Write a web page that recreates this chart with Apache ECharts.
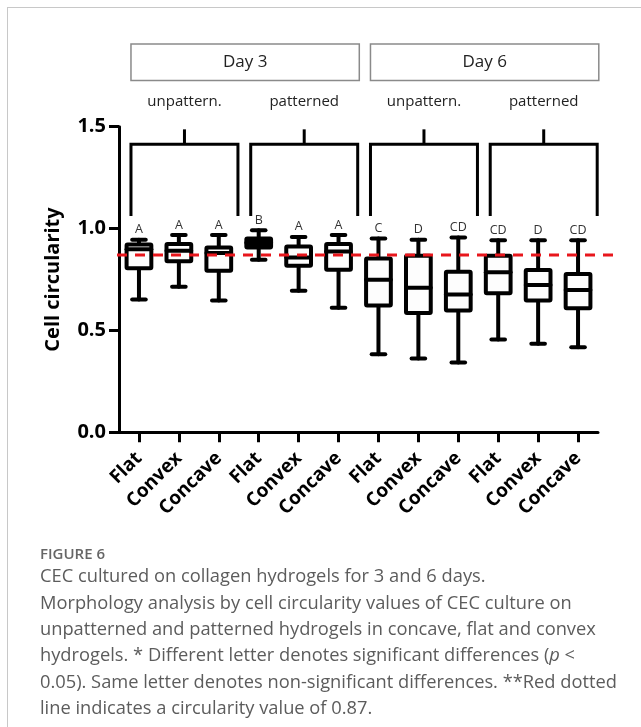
<!DOCTYPE html>
<html>
<head>
<meta charset="utf-8">
<script src="https://cdn.jsdelivr.net/npm/echarts@6/dist/echarts.min.js"></script>
<style>
  html, body { margin: 0; padding: 0; background: #fff; }
  #frame { position: absolute; left: 7px; top: 7px; width: 700px; height: 760px;
           border-left: 1.5px solid #c8c8c8; border-top: 1.5px solid #c8c8c8; }
  #chart { position: absolute; left: 0; top: 0; width: 641px; height: 727px; }
</style>
</head>
<body>
<div id="frame"></div>
<div id="chart"></div>
<script>
// ---------- data ----------
const categories = ['Flat', 'Convex', 'Concave', 'Flat', 'Convex', 'Concave',
                    'Flat', 'Convex', 'Concave', 'Flat', 'Convex', 'Concave'];
const whiskerLow  = [0.652, 0.715, 0.647, 0.847, 0.695, 0.611, 0.383, 0.362, 0.342, 0.455, 0.435, 0.418];
const quartile1   = [0.805, 0.839, 0.793, 0.907, 0.818, 0.798, 0.622, 0.586, 0.598, 0.682, 0.647, 0.609];
const medianVals  = [0.899, 0.891, 0.880, 0.930, 0.858, 0.888, 0.749, 0.709, 0.676, 0.785, 0.723, 0.699];
const quartile3   = [0.922, 0.924, 0.907, 0.951, 0.912, 0.924, 0.853, 0.867, 0.788, 0.867, 0.797, 0.777];
const whiskerHigh = [0.945, 0.968, 0.968, 0.992, 0.959, 0.968, 0.951, 0.945, 0.956, 0.943, 0.943, 0.943];
const letters     = ['A', 'A', 'A', 'B', 'A', 'A', 'C', 'D', 'CD', 'CD', 'D', 'CD'];
const groupLabels = ['unpattern.', 'patterned', 'unpattern.', 'patterned'];
const dayLabels   = ['Day 3', 'Day 6'];
const yTicks      = [0, 0.5, 1.0, 1.5];
const refValue    = 0.87;
const captionTitle = 'FIGURE 6';
const captionLines = [
  'CEC cultured on collagen hydrogels for 3 and 6 days.',
  'Morphology analysis by cell circularity values of CEC culture on',
  'unpatterned and patterned hydrogels in concave, flat and convex',
  'hydrogels. * Different letter denotes significant differences ({i|p} <',
  '0.05). Same letter denotes non-significant differences. **Red dotted',
  'line indicates a circularity value of 0.87.'
];

// ---------- chart ----------
const FONT = '"Open Sans", "DejaVu Sans", sans-serif';
const chart = echarts.init(document.getElementById('chart'), null, { renderer: 'canvas' });

const boxData = categories.map((c, i) =>
  [i, whiskerLow[i], quartile1[i], medianVals[i], quartile3[i], whiskerHigh[i]]);

function renderBox(params, api) {
  const x = api.value(0);
  const bw = api.size([1, 0])[0];
  const pLow = api.coord([x, api.value(1)]);
  const pQ1 = api.coord([x, api.value(2)]);
  const pMed = api.coord([x, api.value(3)]);
  const pQ3 = api.coord([x, api.value(4)]);
  const pHigh = api.coord([x, api.value(5)]);
  const cx = pLow[0];
  const half = bw * 0.31;
  const cap = bw * 0.17;
  const filled = params.dataIndex === 3;
  const ls = { stroke: '#000', lineWidth: 4, lineCap: 'round', lineJoin: 'round' };
  return {
    type: 'group',
    children: [
      { type: 'line', shape: { x1: cx, y1: pHigh[1], x2: cx, y2: pLow[1] }, style: ls },
      { type: 'line', shape: { x1: cx - cap, y1: pHigh[1], x2: cx + cap, y2: pHigh[1] }, style: ls },
      { type: 'line', shape: { x1: cx - cap, y1: pLow[1], x2: cx + cap, y2: pLow[1] }, style: ls },
      { type: 'rect', shape: { x: cx - half, y: pQ3[1], width: 2 * half, height: pQ1[1] - pQ3[1], r: 1 },
        style: Object.assign({ fill: filled ? '#000' : '#fdfdfd' }, ls) },
      { type: 'line', shape: { x1: cx - half, y1: pMed[1], x2: cx + half, y2: pMed[1] }, style: ls },
      { type: 'text', x: cx, y: pHigh[1] - 10,
        style: { text: letters[params.dataIndex], fill: '#333', font: '12.5px ' + FONT,
                 textAlign: 'center', textVerticalAlign: 'middle' } }
    ]
  };
}

function renderGroups(params, api) {
  const g = api.value(0);
  const bw = api.size([1, 0])[0];
  const first = api.coord([g * 3, 0])[0];
  const last = api.coord([g * 3 + 2, 0])[0];
  const left = first - bw / 2 + bw * 0.3;
  const right = last + bw / 2 - bw * 0.02;
  const mid = (left + right) / 2;
  const yLeg = api.coord([0, 1.062])[1];
  const yBar = api.coord([0, 1.414])[1];
  const yStem = api.coord([0, 1.487])[1];
  const yLab = api.coord([0, 1.624])[1];
  const ls = { stroke: '#000', lineWidth: 3, lineJoin: 'miter' };
  const children = [
    { type: 'polyline', shape: { points: [[left, yLeg], [left, yBar], [right, yBar], [right, yLeg]] }, style: Object.assign({ fill: null }, ls) },
    { type: 'line', shape: { x1: mid, y1: yBar, x2: mid, y2: yStem }, style: ls },
    { type: 'text', x: mid, y: yLab,
      style: { text: groupLabels[g], fill: '#222', font: '15px ' + FONT, textAlign: 'center', textVerticalAlign: 'middle' } }
  ];
  if (g % 2 === 0) {
    const last2 = api.coord([g * 3 + 5, 0])[0];
    const dRight = last2 + bw / 2 + bw * 0.02;
    const yTop = api.coord([0, 1.906])[1];
    const yBot = api.coord([0, 1.727])[1];
    children.push({ type: 'rect', shape: { x: left, y: yTop, width: dRight - left, height: yBot - yTop },
      style: { fill: '#fff', stroke: '#8a8a8a', lineWidth: 1.5 } });
    children.push({ type: 'text', x: (left + dRight) / 2, y: (yTop + yBot) / 2,
      style: { text: dayLabels[g / 2], fill: '#222', font: '17px ' + FONT, textAlign: 'center', textVerticalAlign: 'middle' } });
  }
  return { type: 'group', children };
}

function renderRef(params, api) {
  const v = api.value(0);
  const bw = api.size([1, 0])[0];
  const p0 = api.coord([0, v]);
  const p1 = api.coord([categories.length - 1, v]);
  return {
    type: 'line',
    shape: { x1: p0[0] - bw / 2 - 2, y1: p0[1], x2: p1[0] + bw / 2 + 17, y2: p1[1] },
    style: { stroke: '#e8161c', lineWidth: 3, lineDash: [10, 8] }
  };
}

const option = {
  animation: false,
  backgroundColor: 'transparent',
  grid: { left: 119, right: 43, top: 126.7, bottom: 294.7, containLabel: false },
  xAxis: {
    type: 'category',
    data: categories,
    axisLine: { lineStyle: { color: '#000', width: 3 } },
    axisTick: { show: true, inside: false, alignWithLabel: true, length: 10, lineStyle: { color: '#000', width: 3 } },
    axisLabel: { rotate: 45, margin: 23, color: '#000', fontWeight: 'bold', fontSize: 19, fontFamily: FONT, interval: 0 },
    splitLine: { show: false }
  },
  yAxis: {
    type: 'value',
    min: yTicks[0], max: yTicks[yTicks.length - 1], interval: yTicks[1] - yTicks[0],
    name: 'Cell circularity',
    nameLocation: 'middle',
    nameGap: 56,
    nameTextStyle: { color: '#000', fontWeight: 'bold', fontSize: 20, fontFamily: FONT },
    axisLine: { show: true, lineStyle: { color: '#000', width: 3 } },
    axisTick: { show: true, inside: false, length: 10, lineStyle: { color: '#000', width: 3 } },
    axisLabel: { margin: 13, color: '#000', fontWeight: 'bold', fontSize: 20, fontFamily: FONT,
                 formatter: v => v.toFixed(1) },
    splitLine: { show: false }
  },
  series: [
    { type: 'custom', name: 'groups', renderItem: renderGroups, data: groupLabels.map((g, i) => [i]),
      encode: { x: -1, y: -1 }, clip: false, z: 2, silent: true },
    { type: 'custom', name: 'boxes', renderItem: renderBox, data: boxData,
      encode: { x: 0, y: [1, 2, 3, 4, 5] }, clip: false, z: 3, silent: true },
    { type: 'custom', name: 'reference', renderItem: renderRef, data: [[refValue]],
      encode: { y: 0 }, clip: false, z: 4, silent: true }
  ],
  graphic: [
    { type: 'text', left: 40, top: 547,
      style: { text: captionTitle, fill: '#666', font: '600 15px ' + FONT } },
    { type: 'text', left: 40, top: 564,
      style: { text: captionLines.join('\n'), fill: '#5c5c5c', font: '18.3px ' + FONT, lineHeight: 26.3,
               rich: { i: { fontStyle: 'italic', fontSize: 18.3, fill: '#5c5c5c', fontFamily: FONT } } } }
  ]
};
chart.setOption(option);
</script>
</body>
</html>
